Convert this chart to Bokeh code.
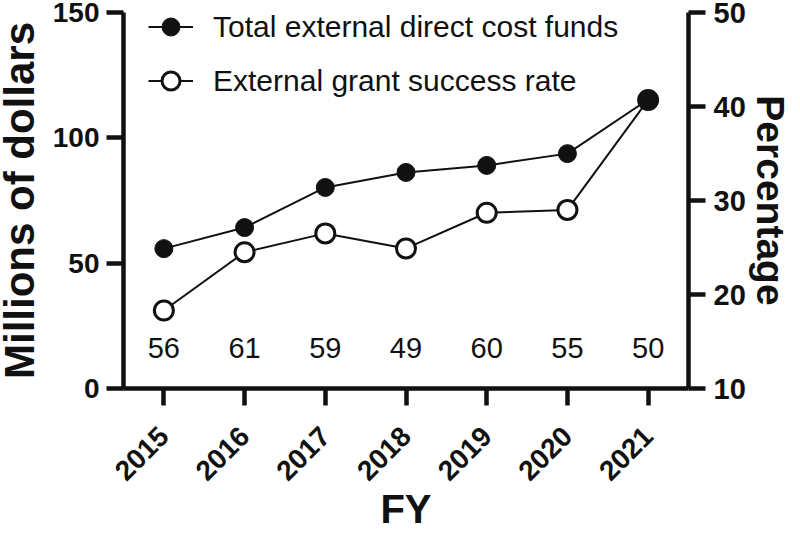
import math
from bokeh.plotting import figure
from bokeh.models import (Range1d, LinearAxis, FixedTicker, Legend, LegendItem,
                          ColumnDataSource)
from bokeh.core.properties import value
from bokeh.embed import file_html
from bokeh.resources import INLINE

# ---- data ----
years = [2015, 2016, 2017, 2018, 2019, 2020, 2021]
funds_musd = [55.8, 64.2, 80.2, 86.2, 89.0, 93.7, 115.3]      # left axis
success_pct = [18.3, 24.5, 26.5, 24.9, 28.7, 29.0, 40.7]     # right axis
grant_counts = ["56", "61", "59", "49", "60", "55", "50"]
left_ticks = [0, 50, 100, 150]
right_ticks = [10, 20, 30, 40, 50]
count_label_y = 16  # left-axis units

FONT = "Liberation Sans"
INK = "#111111"

p = figure(width=808, height=533,
           x_range=Range1d(2014.5, 2021.5), y_range=Range1d(0, 150),
           output_backend="svg", toolbar_location=None,
           min_border_left=131, min_border_right=112,
           min_border_top=12, min_border_bottom=145)
p.styles = {"margin-left": "-8px", "margin-top": "0px"}
p.outline_line_color = None
p.xgrid.visible = False
p.ygrid.visible = False
p.background_fill_color = "white"
p.border_fill_color = "white"

p.extra_y_ranges = {"pct": Range1d(10, 50)}
right_axis = LinearAxis(y_range_name="pct", axis_label="Percentage")
p.add_layout(right_axis, "right")

p.xaxis.ticker = FixedTicker(ticks=years)
p.xaxis.axis_label = "FY"
p.yaxis[0].ticker = FixedTicker(ticks=left_ticks)
p.yaxis[0].axis_label = "Millions of dollars"
right_axis.ticker = FixedTicker(ticks=right_ticks)

for ax in [p.xaxis[0], p.yaxis[0], right_axis]:
    ax.axis_line_width = 4.5
    ax.axis_line_color = INK
    ax.major_tick_line_width = 4.5
    ax.major_tick_line_color = INK
    ax.major_tick_out = 17
    ax.major_tick_in = 0
    ax.minor_tick_line_color = None
    ax.major_label_text_font = FONT
    ax.major_label_text_font_style = "bold"
    ax.major_label_text_font_size = "28px"
    ax.major_label_text_color = INK
    ax.axis_label_text_font = FONT
    ax.axis_label_text_font_style = "bold"
    ax.axis_label_text_color = INK

p.xaxis.major_label_orientation = math.pi / 4
p.xaxis.major_label_text_font_size = "28px"
p.xaxis.major_label_standoff = 26
p.xaxis.axis_label_standoff = -5
p.xaxis.axis_label_text_font_size = "40px"
p.yaxis[0].major_label_standoff = 7
p.yaxis[0].axis_label_standoff = 7
p.yaxis[0].axis_label_text_font_size = "42px"
right_axis.major_label_standoff = 8
right_axis.major_label_text_font_size = "29px"
right_axis.axis_label_standoff = 0
right_axis.axis_label_text_font_size = "39px"

src = ColumnDataSource(dict(x=years, funds=funds_musd, pct=success_pct,
                            cnt=grant_counts,
                            ly=[count_label_y] * len(years)))

# success rate (right axis)
l2 = p.line("x", "pct", source=src, y_range_name="pct", line_color=INK, line_width=2)
m2 = p.scatter("x", "pct", source=src, y_range_name="pct", size=19,
               fill_color="white", line_color=INK, line_width=3)
# funds (left axis)
l1 = p.line("x", "funds", source=src, line_color=INK, line_width=2)
m1 = p.scatter("x", "funds", source=src, size=18, fill_color=INK,
               line_color=INK, line_width=1)

p.text("x", "ly", text="cnt", source=src, text_font=value(FONT),
       text_font_size="29px", text_align="center", text_baseline="middle",
       text_color=INK)

legend = Legend(items=[
    LegendItem(label="Total external direct cost funds", renderers=[l1, m1]),
    LegendItem(label="External grant success rate", renderers=[l2, m2]),
], location=(25, 285))
legend.padding = 0
legend.margin = 0
legend.spacing = 9
legend.glyph_width = 45
legend.glyph_height = 45
legend.label_height = 45
legend.label_standoff = 20
legend.label_text_font = FONT
legend.label_text_font_size = "30px"
legend.label_text_color = INK
legend.border_line_color = None
legend.background_fill_alpha = 0
p.add_layout(legend, "center")

open("out.html", "w").write(file_html(p, INLINE))
